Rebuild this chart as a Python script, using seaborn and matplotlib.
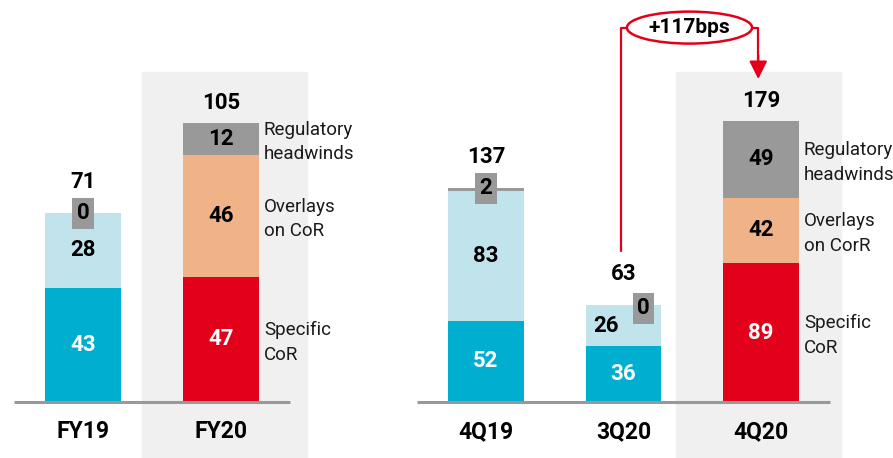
import numpy as np
import pandas as pd
import matplotlib.pyplot as plt
from matplotlib.patches import Ellipse
import seaborn as sns

# data
left_cats = ["FY19", "FY20"]
left_specific = [43, 47]
left_overlays = [28, 46]
left_regulatory = [0, 12]
left_totals = [71, 105]

right_cats = ["4Q19", "3Q20", "4Q20"]
right_specific = [52, 36, 89]
right_overlays = [83, 26, 42]
right_regulatory = [2, 0, 49]
right_totals = [137, 63, 179]

side_labels = ["Regulatory\nheadwinds", "Overlays\non CoR", "Specific\nCoR"]
side_labels_right = ["Regulatory\nheadwinds", "Overlays\non CorR", "Specific\nCoR"]
delta_text = "+117bps"

TEAL = "#00AECF"
LIGHT = "#C0E3EC"
RED = "#E2001A"
ORANGE = "#F0B387"
GREY = "#999999"
BAND = "#F0F0F0"

sns.set_theme(style="white")
plt.rcParams["font.family"] = ["Roboto", "DejaVu Sans"]

W, H = 893, 458
fig = plt.figure(figsize=(W / 100, H / 100), dpi=100)


def px_axes(x0, w):
    return fig.add_axes([x0 / W, 0, w / W, 1])


def stacked(ax, cats, spec, over, reg, totals, highlight):
    df = pd.DataFrame({"cat": cats, "spec": spec, "over": over, "reg": reg,
                       "total": totals})
    df["t1"] = df["spec"]
    df["t2"] = df["spec"] + df["over"]
    df["t3"] = df["t2"] + df["reg"]
    bottom_cols = {c: (RED if c == highlight else TEAL) for c in cats}
    mid_cols = {c: (ORANGE if c == highlight else LIGHT) for c in cats}
    top_cols = {c: GREY for c in cats}
    for col, pal in [("t3", top_cols), ("t2", mid_cols), ("t1", bottom_cols)]:
        sns.barplot(data=df, x="cat", y=col, hue="cat", palette=pal,
                    width=0.55, legend=False, ax=ax, zorder=2,
                    linewidth=0, saturation=1)
    return df


def setup(ax, n, xlim, ylim, band_x):
    ax.set_xlim(*xlim)
    ax.set_ylim(*ylim)
    ax.axis("off")
    ax.axvspan(band_x[0], band_x[1], ymin=0, ymax=0.842, color=BAND, zorder=0)
    ax.plot([-0.5, n - 0.5], [0, 0], color=GREY, lw=2.2, zorder=3,
            solid_capstyle="butt")


num_kw = dict(ha="center", va="center", fontsize=16, fontweight="bold")

# ---------- left panel ----------
axL = px_axes(0, 320)
dfL = stacked(axL, left_cats, left_specific, left_overlays, left_regulatory,
              left_totals, "FY20")
setup(axL, 2, (-83 / 138, (320 - 83) / 138), (-56 / 2.66, 402 / 2.66), (0.43, 1.62))

# ---------- right panel ----------
axR = px_axes(400, 493)
dfR = stacked(axR, right_cats, right_specific, right_overlays, right_regulatory,
              right_totals, "4Q20")
setup(axR, 3, (-86 / 137.5, 407 / 137.5), (-56 / 1.56, 402 / 1.56), (1.38, 2.58))

for ax, df, labels in [(axL, dfL, side_labels), (axR, dfR, side_labels_right)]:
    for i, r in df.iterrows():
        # bottom segment (white text)
        ax.text(i, r["spec"] / 2, f"{r['spec']}", color="white", zorder=5, **num_kw)
        # middle segment
        dx = -17 if r["reg"] == 0 and r["cat"] == "3Q20" else 0
        ax.annotate(f"{r['over']}", (i, r["spec"] + r["over"] / 2),
                    xytext=(dx, 0), textcoords="offset pixels",
                    color="black", zorder=5, **num_kw)
        # top segment
        if r["reg"] >= 10:
            ax.text(i, r["t2"] + r["reg"] / 2, f"{r['reg']}", color="black",
                    zorder=5, **num_kw)
            off = 20
        else:
            bx = 20 if r["cat"] == "3Q20" else 0
            by = -3 if r["cat"] == "3Q20" else 0
            ax.annotate(f"{r['reg']}", (i, r["t3"]), xytext=(bx, by),
                        textcoords="offset pixels", color="black", zorder=6,
                        bbox=dict(boxstyle="square,pad=0.2", fc=GREY, ec="none"),
                        **num_kw)
            off = 31
        ax.annotate(f"{r['total']}", (i, r["t3"]), xytext=(0, off),
                    textcoords="offset pixels", color="black", zorder=5, **num_kw)
        # category label
        ax.annotate(r["cat"], (i, 0), xytext=(0, -30), textcoords="offset pixels",
                    ha="center", va="center", fontsize=16.5, fontweight="bold",
                    color="black")
    # side labels next to the highlighted bar
    last = df.iloc[-1]
    n = len(df) - 1
    centers = [last["t2"] + last["reg"] / 2, last["spec"] + last["over"] / 2,
               last["spec"] / 2]
    for lab, yc in zip(labels, centers):
        ax.annotate(lab, (n + 0.275, yc), xytext=(5, -3),
                    textcoords="offset pixels", ha="left", va="center",
                    fontsize=13.5, linespacing=1.45, color="#1a1a1a")

# ---------- +117bps annotation ----------
y_top = 240
x_start = 1 - 3 / 137.5
axR.plot([x_start, x_start, 1.48 - 0.455], [97, y_top, y_top], color=RED, lw=1.6,
         clip_on=False, zorder=4)
axR.plot([1.48 + 0.455, 1.98, 1.98], [y_top, y_top, 218], color=RED, lw=1.6,
         clip_on=False, zorder=4)
axR.annotate("", xy=(1.98, 207), xytext=(1.98, 222),
             arrowprops=dict(arrowstyle="-|>,head_width=0.45,head_length=0.9",
                             color=RED, lw=1.6, shrinkA=0, shrinkB=0),
             annotation_clip=False)
axR.add_patch(Ellipse((1.48, y_top), 0.91, 20.5, fc="white", ec=RED, lw=1.8,
                      clip_on=False, zorder=5))
axR.text(1.48, y_top, delta_text, ha="center", va="center", fontsize=15,
         fontweight="bold", zorder=6, color="black")

fig.savefig("out.png", dpi=100)
